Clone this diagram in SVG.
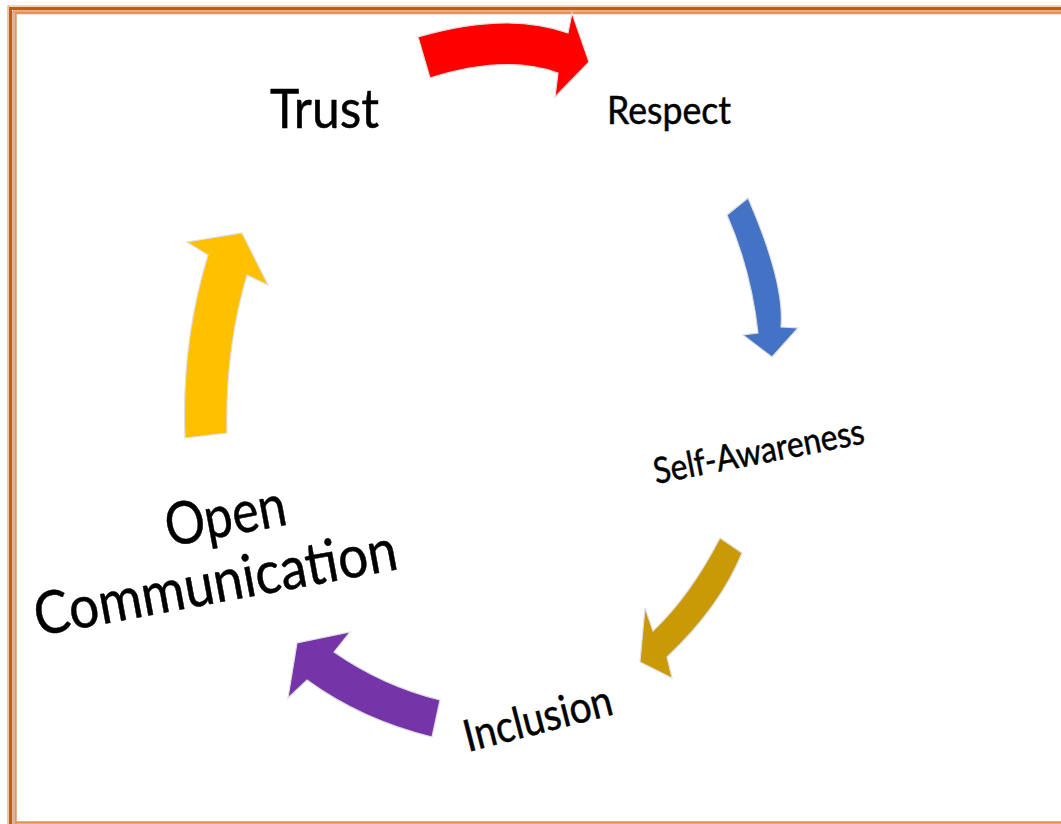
<svg xmlns="http://www.w3.org/2000/svg" width="1061" height="824" viewBox="0 0 1061 824">
<style>
.lbl{font-family:Lato,"Open Sans","Liberation Sans",sans-serif;fill:#000;stroke:#000;stroke-width:0.5}
.arr{stroke:#dedede;stroke-width:1.2;stroke-linejoin:miter}
.bd{fill:none}
</style>
<rect x="0" y="0" width="1061" height="824" fill="#ffffff"/>
<g id="border" class="bd">
<path d="M8,824 V6 H1061" stroke="#e3a27a" stroke-width="1.2"/>
<path d="M10.5,824 V8.5 H1061" stroke="#c55a11" stroke-width="3"/>
<path d="M13,824 V11 H1061" stroke="#c8651f" stroke-width="1"/>
<path d="M15.5,824 V13 H1061 M15.5,822.5 H1061" stroke="#e0925f" stroke-width="2.4"/>
</g>
<g id="connectors">
<path id="arrow-red" class="arr" fill="#ff0000" d="M418,37 Q507,11 568,33 L572,13 L589,62 L555,97 L558,73 Q506,54 430,78 Z"/>
<path id="arrow-blue" class="arr" fill="#4472c4" d="M748,198 Q785,283 781,327 L798,328 L772,357 L743,335 L758,333 Q751,270 727,215 Z"/>
<path id="arrow-gold" class="arr" fill="#c99a06" d="M720,538 L742,553 Q720,607 667,657 L672,678 L640,662 L645,608 L653,631 Q690,596 720,538 Z"/>
<path id="arrow-purple" class="arr" fill="#7535a8" d="M440,700 L432,737 Q362,720 307,680 L288,698 L297,643 L350,632 L334,652 Q383,686 440,700 Z"/>
<path id="arrow-yellow" class="arr" fill="#ffc000" d="M185,438 L227,433 Q225,350 247,275 L268,285 L242,233 L187,242 L208,255 Q181,343 185,438 Z"/>
</g>
<g id="node-trust">
<text class="lbl" x="270" y="128" font-size="55" textLength="109" lengthAdjust="spacingAndGlyphs">Trust</text>
</g>
<g id="node-respect">
<text class="lbl" x="607" y="124" font-size="39" textLength="124" lengthAdjust="spacingAndGlyphs">Respect</text>
</g>
<g id="node-self-awareness" transform="translate(656,484) rotate(-11)">
<text class="lbl" x="0" y="0" font-size="36" textLength="214" lengthAdjust="spacingAndGlyphs">Self-Awareness</text>
</g>
<g id="node-inclusion" transform="translate(468,752) rotate(-14.5)">
<text class="lbl" x="0" y="0" font-size="44" textLength="152" lengthAdjust="spacingAndGlyphs">Inclusion</text>
</g>
<g id="node-open-communication" transform="translate(38,636) rotate(-10.5)">
<text class="lbl" x="145" y="-64" font-size="59" textLength="122" lengthAdjust="spacingAndGlyphs">Open</text>
<text class="lbl" x="0" y="0" font-size="59" textLength="368" lengthAdjust="spacingAndGlyphs">Communication</text>
</g>
</svg>
